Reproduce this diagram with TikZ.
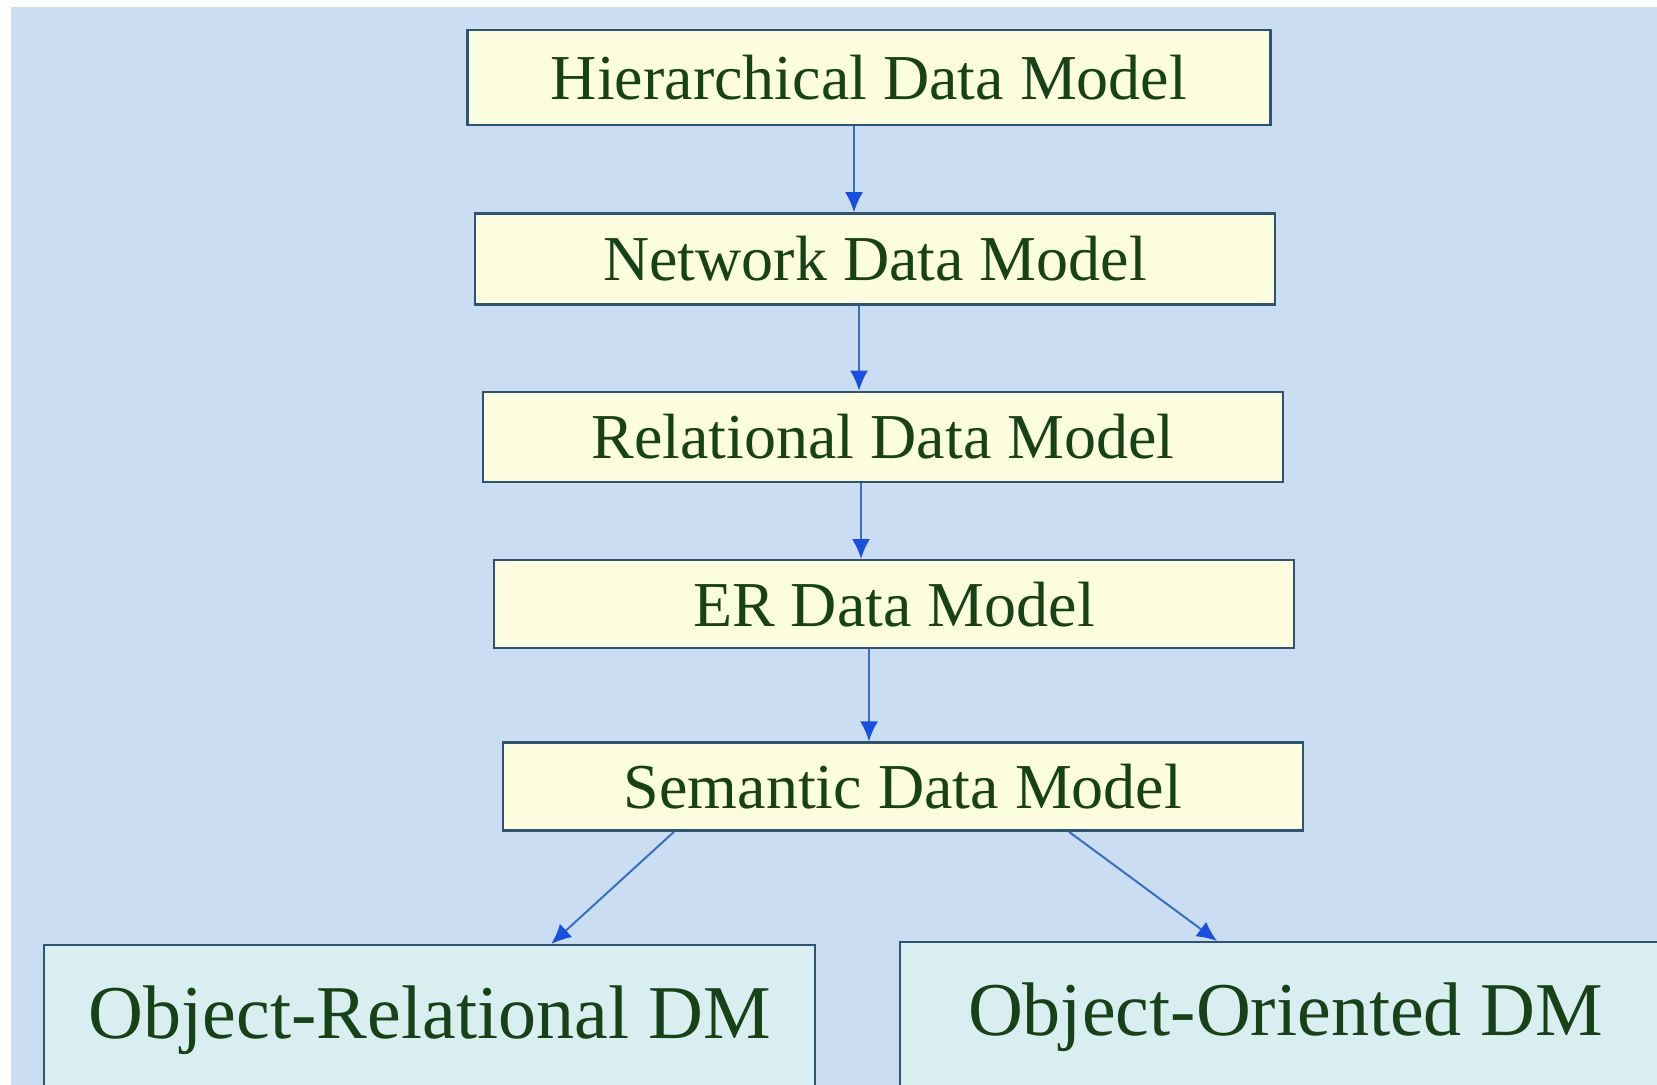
\documentclass[tikz,border=0pt]{standalone}
\usepackage{fontspec}
\setmainfont{Liberation Serif}
\usepackage{tikz}
\usetikzlibrary{arrows, arrows.meta, positioning, calc}
\definecolor{dm_back}{HTML}{CADDF3}
\definecolor{dm_yellow}{HTML}{FCFCDF}
\definecolor{dm_cyan}{HTML}{D9EEF1}
\definecolor{dm_edge}{HTML}{2E5472}
\definecolor{dm_text}{HTML}{174217}
\definecolor{dm_line}{HTML}{3A6FC0}
\definecolor{dm_tip}{HTML}{1A50E0}
\tikzset{
  model/.style={rectangle,draw=dm_edge,line width=1.2pt,fill=dm_yellow,text=dm_text,
    minimum width=400pt,minimum height=45pt,inner sep=0pt,font=\fontsize{32}{38}\selectfont},
  model_l/.style={model,fill=dm_cyan,minimum width=385.5pt,minimum height=75pt,
    font=\fontsize{38}{44}\selectfont},
  flow/.style={line width=1pt,dm_line,-{Latex[length=10pt,width=9pt,color=dm_tip]}},
}

\begin{document}
\begin{tikzpicture}[x=0.5pt,y=-0.5pt]
	    \useasboundingbox (0,0) rectangle (1657,1085);
	    \fill[white] (0,0) rectangle (1657,1085);
	    \fill[dm_back] (11,7) rectangle (1657,1085);
	    \node[model,minimum width=401.5pt,minimum height=47.5pt] (A) at (869,77.5) {Hierarchical Data Model};
	    \node[model,below=43pt of A,xshift=3pt,minimum height=45.5pt] (B) {Network Data Model};
	    \node[model,below=42.5pt of B,xshift=4pt] (C) {Relational Data Model};
	    \node[model,below=38pt of C,xshift=5.5pt,minimum height=44pt] (D) {ER Data Model};
	    \node[model,below=46pt of D,xshift=4.5pt,minimum height=44pt] (E) {Semantic Data Model};
	    \node[model_l,anchor=north west] (F) at (43,944) {Object-Relational DM};
	    \node[model_l,anchor=north west] (G) at (899,941) {Object-Oriented DM};
	    \draw[flow] ([xshift=-7.5pt]A.south) -- ([xshift=-7.5pt]A.south |- B.north);
	    \draw[flow] ([xshift=-8pt]B.south) -- ([xshift=-8pt]B.south |- C.north);
	    \draw[flow] ([xshift=-11pt]C.south) -- ([xshift=-11pt]C.south |- D.north);
	    \draw[flow] ([xshift=-12.5pt]D.south) -- ([xshift=-12.5pt]D.south |- E.north);
	    \draw[flow] ([xshift=-114.5pt]E.south) -- ([xshift=60.75pt]F.north);
	    \draw[flow] ([xshift=83pt]E.south) -- ([xshift=159pt]G.north west);
	\end{tikzpicture}
\end{document}
